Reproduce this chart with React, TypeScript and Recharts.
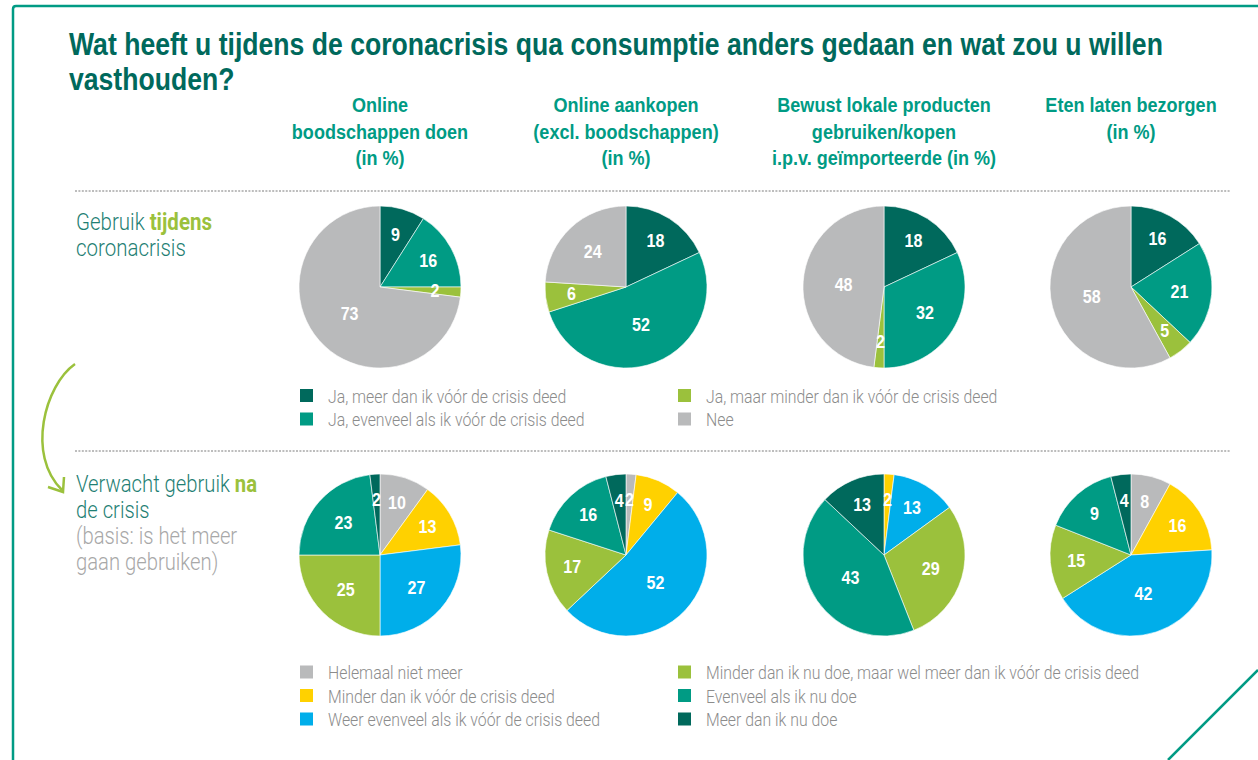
import React from "react";
import { PieChart, Pie, Cell } from "recharts";

// colours of the source
const darkTeal = "#00695C";
const teal = "#009B84";
const lime = "#9BC13C";
const grey = "#B9BABB";
const yellow = "#FFD100";
const blue = "#00AEEA";

const titleLines = [
  "Wat heeft u tijdens de coronacrisis qua consumptie anders gedaan en wat zou u willen",
  "vasthouden?",
];

const columnTitles = [
  ["Online", "boodschappen doen", "(in %)"],
  ["Online aankopen", "(excl. boodschappen)", "(in %)"],
  ["Bewust lokale producten", "gebruiken/kopen", "i.p.v. geïmporteerde (in %)"],
  ["Eten laten bezorgen", "(in %)"],
];

// row 1: gebruik tijdens coronacrisis
const tijdensCategories = [
  "Ja, meer dan ik vóór de crisis deed",
  "Ja, evenveel als ik vóór de crisis deed",
  "Ja, maar minder dan ik vóór de crisis deed",
  "Nee",
];
const tijdensColors = [darkTeal, teal, lime, grey];
const tijdensBoodschappen = [9, 16, 2, 73];
const tijdensAankopen = [18, 52, 6, 24];
const tijdensLokaal = [18, 32, 2, 48];
const tijdensBezorgen = [16, 21, 5, 58];

// row 2: verwacht gebruik na de crisis
const naCategories = [
  "Helemaal niet meer",
  "Minder dan ik vóór de crisis deed",
  "Weer evenveel als ik vóór de crisis deed",
  "Minder dan ik nu doe, maar wel meer dan ik vóór de crisis deed",
  "Evenveel als ik nu doe",
  "Meer dan ik nu doe",
];
const naColors = [grey, yellow, blue, lime, teal, darkTeal];
const naBoodschappen = [10, 13, 27, 25, 23, 2];
const naAankopen = [2, 9, 52, 17, 16, 4];
const naLokaal = [0, 2, 13, 29, 43, 13];
const naBezorgen = [8, 16, 42, 15, 15, 4];
// the source prints 9 on the "Evenveel" slice here, although it is drawn at ~15%
const naBezorgenPrinted = [8, 16, 42, 15, 9, 4];

const BOLD = "'Liberation Sans', Arial, sans-serif";
const LIGHT = "Roboto, 'Liberation Sans', sans-serif";
const SX = 0.87; // squeeze to mimic the condensed typeface

const colX = [380, 626, 884, 1131];
const rowY = [287, 555];
const R = 81;

const toData = (cats: string[], values: number[], printed?: number[]) =>
  values.map((v, i) => ({ name: cats[i], value: v, txt: String(printed ? printed[i] : v) }));

const RAD = Math.PI / 180;
const sliceLabel = (props: any) => {
  const { cx, cy, midAngle, outerRadius, percent, value } = props;
  if (!value) return null;
  const pct = percent * 100;
  const k = pct < 20 ? 0.68 : pct < 40 ? 0.6 : 0.5;
  const r = outerRadius * k;
  const x = cx + r * Math.cos(-midAngle * RAD);
  const y = cy + r * Math.sin(-midAngle * RAD);
  const txt = props.payload?.txt ?? props.txt ?? value;
  return (
    <text
      transform={`translate(${x},${y}) scale(${SX},1)`}
      textAnchor="middle"
      dominantBaseline="central"
      fill="#fff"
      fontFamily={BOLD}
      fontWeight={700}
      fontSize={18.5}
    >
      {txt}
    </text>
  );
};

type TProps = {
  x: number;
  y: number;
  size: number;
  fill?: string;
  weight?: number;
  family?: string;
  anchor?: "start" | "middle" | "end";
  sx?: number;
  children: React.ReactNode;
};
const T: React.FC<TProps> = ({ x, y, size, fill, weight, family, anchor, sx, children }) => (
  <text
    transform={`translate(${x},${y}) scale(${sx || SX},1)`}
    textAnchor={anchor || "start"}
    fontSize={size}
    fontWeight={weight || 400}
    fontFamily={family || LIGHT}
    fill={fill}
  >
    {children}
  </text>
);

const LegendBlock: React.FC<{ cats: string[]; colors: string[]; top: number }> = ({ cats, colors, top }) => {
  const half = Math.ceil(cats.length / 2);
  return (
    <g>
      {cats.map((c, i) => {
        const col = i < half ? 0 : 1;
        const row = i < half ? i : i - half;
        const sqX = col === 0 ? 300 : 678;
        const cy = top + row * 23.5;
        return (
          <g key={c}>
            <rect x={sqX} y={cy - 6.5} width={13} height={13} fill={colors[i]} />
            <T x={sqX + 28} y={cy + 7} size={17.5} fill="#8C8C8C" weight={300} sx={0.905}>
              {c}
            </T>
          </g>
        );
      })}
    </g>
  );
};

const pies = [
  { row: 0, col: 0, data: toData(tijdensCategories, tijdensBoodschappen), colors: tijdensColors },
  { row: 0, col: 1, data: toData(tijdensCategories, tijdensAankopen), colors: tijdensColors },
  { row: 0, col: 2, data: toData(tijdensCategories, tijdensLokaal), colors: tijdensColors },
  { row: 0, col: 3, data: toData(tijdensCategories, tijdensBezorgen), colors: tijdensColors },
  { row: 1, col: 0, data: toData(naCategories, naBoodschappen), colors: naColors },
  { row: 1, col: 1, data: toData(naCategories, naAankopen), colors: naColors },
  { row: 1, col: 2, data: toData(naCategories, naLokaal), colors: naColors },
  { row: 1, col: 3, data: toData(naCategories, naBezorgen, naBezorgenPrinted), colors: naColors },
];

const App: React.FC = () => {
  return (
    <div style={{ position: "absolute", left: 0, top: 0, width: 1258, height: 760, background: "#fff", overflow: "hidden" }}>
      <PieChart width={1258} height={760} margin={{ top: 0, right: 0, bottom: 0, left: 0 }}>
        {pies.map((p, i) => (
          <Pie
            key={i}
            data={p.data}
            dataKey="value"
            nameKey="name"
            cx={colX[p.col]}
            cy={rowY[p.row]}
            outerRadius={R}
            innerRadius={0}
            startAngle={90}
            endAngle={-270}
            stroke="#fff"
            strokeWidth={0.6}
            label={sliceLabel}
            labelLine={false}
            isAnimationActive={false}
          >
            {p.data.map((d, j) => (
              <Cell key={d.name} fill={p.colors[j]} />
            ))}
          </Pie>
        ))}
      </PieChart>

      <svg width={1258} height={760} style={{ position: "absolute", left: 0, top: 0, pointerEvents: "none" }}>
        {/* frame */}
        <path d="M13 760 L13 9 Q13 6 16 6 L1258 6" fill="none" stroke={teal} strokeWidth={2.5} />
        <line x1={1258} y1={670} x2={1168} y2={760} stroke={teal} strokeWidth={2.5} />

        {/* title */}
        {titleLines.map((t, i) => (
          <T key={t} x={69} y={55 + i * 35} size={30.5} weight={700} family={BOLD} fill={darkTeal} sx={0.872}>
            {t}
          </T>
        ))}

        {/* column headers */}
        {columnTitles.map((lines, c) =>
          lines.map((l, k) => (
            <T key={c + "-" + k} x={colX[c]} y={112 + k * 26.5} size={20.5} weight={700} family={BOLD} fill={teal} anchor="middle" sx={0.88}>
              {l}
            </T>
          ))
        )}

        {/* dotted separators */}
        <line x1={75} y1={191} x2={1230} y2={191} stroke="#BDBDBD" strokeWidth={2} strokeDasharray="2 1.4" />
        <line x1={75} y1={451} x2={1230} y2={451} stroke="#BDBDBD" strokeWidth={2} strokeDasharray="2 1.4" />

        {/* row labels */}
        <T x={76} y={230} size={23} weight={300} fill="#1F7F74" sx={0.89}>
          Gebruik <tspan fill={lime} fontWeight={700}>tijdens</tspan>
        </T>
        <T x={76} y={256} size={23} weight={300} fill="#1F7F74" sx={0.89}>
          coronacrisis
        </T>
        <T x={76} y={492} size={23} weight={300} fill="#1F7F74" sx={0.88}>
          Verwacht gebruik <tspan fill={lime} fontWeight={700}>na</tspan>
        </T>
        <T x={76} y={518} size={23} weight={300} fill="#1F7F74" sx={0.88}>
          de crisis
        </T>
        <T x={76} y={544} size={23} weight={300} fill="#A8A8A8" sx={0.88}>
          (basis: is het meer
        </T>
        <T x={76} y={570} size={23} weight={300} fill="#A8A8A8" sx={0.88}>
          gaan gebruiken)
        </T>

        {/* arrow */}
        <path d="M75 364 C45 385 26 455 62 490" fill="none" stroke={lime} strokeWidth={2.5} />
        <polyline points="48,487 63,492 64,477" fill="none" stroke={lime} strokeWidth={2.5} />

        {/* legends */}
        <LegendBlock cats={tijdensCategories} colors={tijdensColors} top={395.5} />
        <LegendBlock cats={naCategories} colors={naColors} top={672} />
      </svg>
    </div>
  );
};

export default App;
